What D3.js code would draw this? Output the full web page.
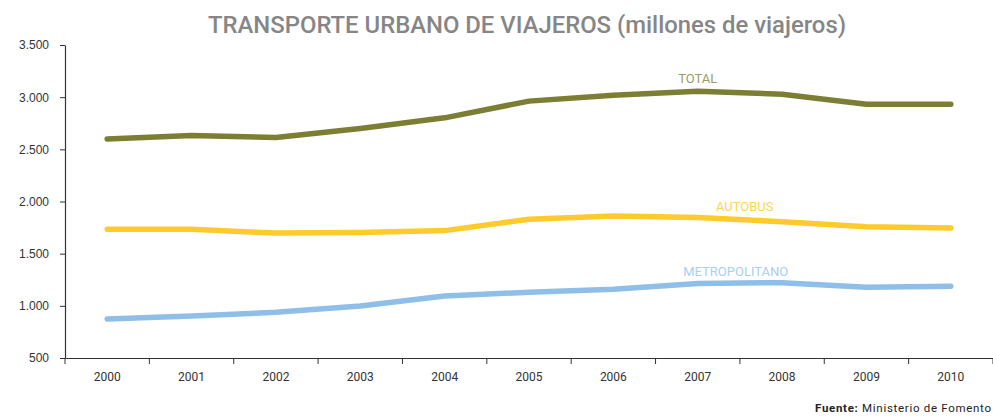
<!DOCTYPE html>
<html><head><meta charset="utf-8">
<script src="https://cdn.jsdelivr.net/npm/d3@7/dist/d3.min.js"></script>
<style>body{margin:0;background:#fff}svg{display:block}</style>
</head><body><svg id="c" width="993" height="416"></svg>
<script>
const years = ["2000","2001","2002","2003","2004","2005","2006","2007","2008","2009","2010"];
const total = [2600,2632,2613,2700,2802,2962,3018,3056,3028,2933,2933];
const autobus = [1733,1733,1697,1702,1721,1830,1862,1846,1806,1759,1747];
const metro = [874,903,938,999,1095,1130,1159,1214,1222,1178,1188];
const yTicks = [500,1000,1500,2000,2500,3000,3500];
const seriesNames = ["TOTAL","AUTOBUS","METROPOLITANO"];
const seriesColors = ["#7b7e33","#ffca2b","#8fbfe8"];
const labelColors = ["#9a9b6a","#ffd54f","#a9cff0"];
const labelAt = [{year:"2007",val:3140},{year:"2007",val:1910,dx:47},{year:"2007",val:1285,dx:38}];

const svg = d3.select("#c");
const x = d3.scaleBand().domain(years).range([65, 993]);
const y = d3.scaleLinear().domain([500, 3500]).range([358, 45]);
const fmt = v => d3.format(",")(v).replace(/,/g, ".");
const cond = "Roboto,'DejaVu Sans',sans-serif";

svg.append("text").attr("x", 527).attr("y", 33).attr("text-anchor","middle")
  .attr("font-family",cond).attr("font-weight",500).attr("font-size",24)
  .attr("fill","#868686").attr("textLength",638).attr("lengthAdjust","spacingAndGlyphs")
  .text("TRANSPORTE URBANO DE VIAJEROS (millones de viajeros)");

const ya = svg.append("g").attr("transform","translate(65,0)")
  .call(d3.axisLeft(y).tickValues(yTicks).tickFormat(fmt).tickSize(5).tickSizeOuter(0).tickPadding(11));
ya.select(".domain").attr("stroke","#333").attr("stroke-width",1.2);
ya.selectAll(".tick line").attr("stroke","#333");
ya.selectAll("text").attr("font-family","'Liberation Sans',Arial,sans-serif").attr("font-size",12).attr("fill","#333");

const xa = svg.append("g").attr("transform","translate(0,358)")
  .call(d3.axisBottom(x).tickSize(0).tickPadding(14));
xa.select(".domain").attr("stroke","#333").attr("stroke-width",1.2);
xa.selectAll("text").attr("font-family",cond).attr("font-size",12).attr("fill","#333");
xa.selectAll(".bt").data(years).enter().append("line")
  .attr("x1", d => x(d)).attr("x2", d => x(d)).attr("y1",0).attr("y2",6).attr("stroke","#333");
xa.append("line").attr("x1",993).attr("x2",993).attr("y1",0).attr("y2",6).attr("stroke","#333");

const line = d3.line().x((d,i) => x(years[i]) + x.bandwidth()/2).y(d => y(d));
[total, autobus, metro].forEach((s, i) => {
  svg.append("path").datum(s).attr("d", line).attr("fill","none")
    .attr("stroke", seriesColors[i]).attr("stroke-width",5.5).attr("stroke-linecap","round").attr("stroke-linejoin","round");
  const la = labelAt[i];
  svg.append("text").attr("x", x(la.year) + x.bandwidth()/2 + (la.dx||0)).attr("y", y(la.val))
    .attr("text-anchor","middle").attr("font-family",cond)
    .attr("font-size",13).attr("fill", labelColors[i]).text(seriesNames[i]);
});

const src = svg.append("text").attr("x", 815).attr("y", 412)
  .attr("font-family",cond).attr("font-size",11.5).attr("fill","#222")
  .attr("textLength",176).attr("lengthAdjust","spacing");
src.append("tspan").attr("font-weight","bold").text("Fuente:");
src.append("tspan").text(" Ministerio de Fomento");
</script></body></html>
